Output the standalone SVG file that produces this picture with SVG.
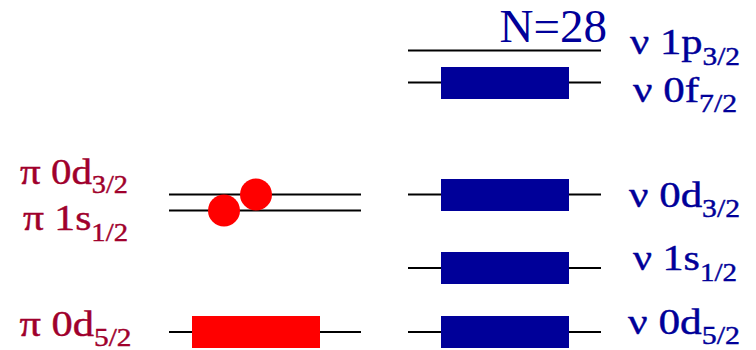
<svg xmlns="http://www.w3.org/2000/svg" width="756" height="350" viewBox="0 0 756 350">
<defs>
<style>
.lvl{stroke:#000;stroke-width:2;fill:none}
.pr{fill:#ff0000}
.nr{fill:#000099}
.pt{fill:#a0002c;stroke:#a0002c;stroke-width:0.4}
.nt{fill:#000099;stroke:#000099;stroke-width:0.4}
</style>
</defs>
<rect width="756" height="350" fill="#fff"/>
<g id="connectors">
<line class="lvl" x1="169" y1="194.5" x2="361" y2="194.5"/>
<line class="lvl" x1="169" y1="210.5" x2="361" y2="210.5"/>
<line class="lvl" x1="169" y1="332" x2="361" y2="332"/>
<line class="lvl" x1="408" y1="50.5" x2="601" y2="50.5"/>
<line class="lvl" x1="408" y1="82.5" x2="601" y2="82.5"/>
<line class="lvl" x1="408" y1="194.5" x2="601" y2="194.5"/>
<line class="lvl" x1="408" y1="268" x2="601" y2="268"/>
<line class="lvl" x1="408" y1="332" x2="601" y2="332"/>
</g>
<g font-family="'Liberation Serif', 'Times New Roman', serif" font-size="35.5">
<g id="p-0d32">
<circle class="pr" cx="256" cy="194.5" r="16"/>
<text class="pt" x="20" y="183.5" textLength="108" lengthAdjust="spacingAndGlyphs">π 0d<tspan font-size="24.5" dy="9">3/2</tspan></text>
</g>
<g id="p-1s12">
<circle class="pr" cx="224" cy="210.5" r="16"/>
<text class="pt" x="23" y="230" textLength="105" lengthAdjust="spacingAndGlyphs">π 1s<tspan font-size="24.5" dy="10.5">1/2</tspan></text>
</g>
<g id="p-0d52">
<rect class="pr" x="192" y="316" width="128" height="32"/>
<text class="pt" x="19.5" y="336" textLength="112" lengthAdjust="spacingAndGlyphs">π 0d<tspan font-size="24.5" dy="10">5/2</tspan></text>
</g>
<g id="n-1p32">
<text class="nt" x="630" y="53.5" textLength="110" lengthAdjust="spacingAndGlyphs">ν 1p<tspan font-size="24.5" dy="11">3/2</tspan></text>
</g>
<g id="n-0f72">
<rect class="nr" x="441" y="67" width="128" height="32"/>
<text class="nt" x="633" y="101.5" textLength="104" lengthAdjust="spacingAndGlyphs">ν 0f<tspan font-size="24.5" dy="10">7/2</tspan></text>
</g>
<g id="n-0d32">
<rect class="nr" x="441" y="179" width="128" height="32"/>
<text class="nt" x="629" y="206.5" textLength="111" lengthAdjust="spacingAndGlyphs">ν 0d<tspan font-size="24.5" dy="10.5">3/2</tspan></text>
</g>
<g id="n-1s12">
<rect class="nr" x="441" y="252" width="128" height="32"/>
<text class="nt" x="633" y="270" textLength="104" lengthAdjust="spacingAndGlyphs">ν 1s<tspan font-size="24.5" dy="11">1/2</tspan></text>
</g>
<g id="n-0d52">
<rect class="nr" x="441" y="316" width="128" height="32"/>
<text class="nt" x="628" y="333.5" textLength="112" lengthAdjust="spacingAndGlyphs">ν 0d<tspan font-size="24.5" dy="10">5/2</tspan></text>
</g>
<g id="n28">
<text fill="#000099" x="607" y="42" text-anchor="end" font-size="47">N=28</text>
</g>
</g>
</svg>
